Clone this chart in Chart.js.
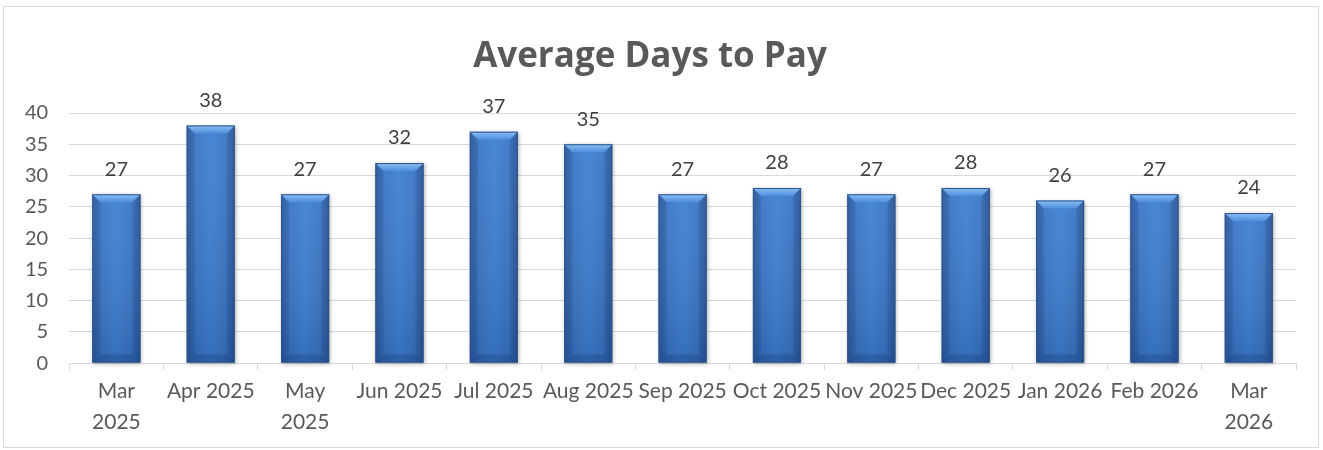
<!DOCTYPE html>
<html lang="en">
<head>
  <meta charset="UTF-8">
  <title>Average Days to Pay</title>
  <script src="https://cdn.jsdelivr.net/npm/chart.js"></script>
  <style>
    body { margin: 0; background: #fff; }
    #wrap { position: absolute; left: 3px; top: 6px; width: 1316px; height: 442px; border: 1px solid #d9d9d9; box-sizing: border-box; }
  </style>
</head>
<body>
  <div id="wrap"><canvas id="daysChart"></canvas></div>

  <script>
    // chart data
    const months = [
      ['Mar', '2025'], 'Apr 2025', ['May', '2025'], 'Jun 2025', 'Jul 2025', 'Aug 2025',
      'Sep 2025', 'Oct 2025', 'Nov 2025', 'Dec 2025', 'Jan 2026', 'Feb 2026', ['Mar', '2026']
    ];
    const avgDays = [27, 38, 27, 32, 37, 35, 27, 28, 27, 28, 26, 27, 24];
    const yTicks = [0, 5, 10, 15, 20, 25, 30, 35, 40];

    const fontFamily = 'Lato, "Open Sans", sans-serif';

    // draws the bevelled look of the bars plus the value on top
    const bevelBars = {
      id: 'bevelBars',
      afterDatasetsDraw(chart) {
        const ctx = chart.ctx;
        const meta = chart.getDatasetMeta(0);
        meta.data.forEach((bar, i) => {
          const p = bar.getProps(['x', 'y', 'base', 'width'], true);
          const l = p.x - p.width / 2, r = p.x + p.width / 2, t = p.y, b = p.base;
          const d = 8;

          ctx.save();
          // body
          ctx.shadowColor = 'rgba(0,0,0,0.3)';
          ctx.shadowBlur = 4;
          ctx.shadowOffsetX = 1;
          ctx.shadowOffsetY = 1;
          const g = ctx.createLinearGradient(l, 0, r, 0);
          g.addColorStop(0, '#2c5fa6');
          g.addColorStop(0.18, '#3874c4');
          g.addColorStop(0.5, '#3e7fd1');
          g.addColorStop(0.82, '#3874c4');
          g.addColorStop(1, '#2a5a9e');
          ctx.fillStyle = g;
          ctx.fillRect(l, t, r - l, b - t);
          ctx.shadowColor = 'transparent';

          // vertical shading, darker toward the base
          const v = ctx.createLinearGradient(0, t, 0, b);
          v.addColorStop(0, 'rgba(255,255,255,0.06)');
          v.addColorStop(1, 'rgba(0,20,60,0.15)');
          ctx.fillStyle = v;
          ctx.fillRect(l, t, r - l, b - t);

          // top bevel
          const tg = ctx.createLinearGradient(0, t, 0, t + d);
          tg.addColorStop(0, '#8cc0f6');
          tg.addColorStop(1, '#4d8ddb');
          ctx.fillStyle = tg;
          ctx.beginPath();
          ctx.moveTo(l, t); ctx.lineTo(r, t); ctx.lineTo(r - d, t + d); ctx.lineTo(l + d, t + d);
          ctx.closePath();
          ctx.fill();

          // bottom bevel
          ctx.fillStyle = 'rgba(10,30,70,0.18)';
          ctx.beginPath();
          ctx.moveTo(l, b); ctx.lineTo(r, b); ctx.lineTo(r - d, b - d); ctx.lineTo(l + d, b - d);
          ctx.closePath();
          ctx.fill();

          // side bevels
          ctx.fillStyle = 'rgba(10,30,70,0.1)';
          ctx.beginPath();
          ctx.moveTo(l, t); ctx.lineTo(l + d, t + d); ctx.lineTo(l + d, b - d); ctx.lineTo(l, b);
          ctx.closePath();
          ctx.fill();
          ctx.beginPath();
          ctx.moveTo(r, t); ctx.lineTo(r - d, t + d); ctx.lineTo(r - d, b - d); ctx.lineTo(r, b);
          ctx.closePath();
          ctx.fill();

          // outline
          ctx.strokeStyle = '#30558c';
          ctx.lineWidth = 1;
          ctx.strokeRect(l + 0.5, t + 0.5, r - l - 1, b - t - 1);

          // value label
          ctx.fillStyle = '#404040';
          ctx.font = '20px ' + fontFamily;
          ctx.textAlign = 'center';
          ctx.textBaseline = 'bottom';
          ctx.fillText(avgDays[i], p.x, t - 15);
          ctx.restore();
        });
      }
    };

    new Chart(document.getElementById('daysChart'), {
      type: 'bar',
      data: {
        labels: months,
        datasets: [{
          label: 'Average Days to Pay',
          data: avgDays,
          backgroundColor: 'rgba(0,0,0,0)',
          borderWidth: 0,
          barPercentage: 0.51,
          categoryPercentage: 1.0
        }]
      },
      options: {
        responsive: true,
        maintainAspectRatio: false,
        animation: false,
        layout: { padding: { left: 0, right: 22, top: 0, bottom: 4 } },
        plugins: {
          legend: { display: false },
          tooltip: { enabled: false },
          title: {
            display: true,
            text: 'Average Days to Pay',
            color: '#595959',
            font: { family: '"Open Sans", Lato, sans-serif', size: 35, weight: 'bold' },
            padding: { top: 29, bottom: 35 }
          }
        },
        scales: {
          x: {
            grid: { display: true, drawOnChartArea: false, drawTicks: true, tickLength: 7, color: '#d9d9d9', offset: true },
            border: { display: true, color: '#d9d9d9', width: 1 },
            ticks: {
              color: '#595959',
              font: { family: fontFamily, size: 21, lineHeight: 1.45 },
              padding: 6,
              maxRotation: 0,
              autoSkip: false
            }
          },
          y: {
            min: 0,
            max: 40,
            afterBuildTicks(axis) { axis.ticks = yTicks.map(v => ({ value: v })); },
            grid: { color: '#d9d9d9', drawTicks: false, lineWidth: 1 },
            border: { display: false },
            ticks: {
              color: '#595959',
              font: { family: fontFamily, size: 20 },
              padding: 21
            }
          }
        }
      },
      plugins: [bevelBars]
    });
  </script>
</body>
</html>
